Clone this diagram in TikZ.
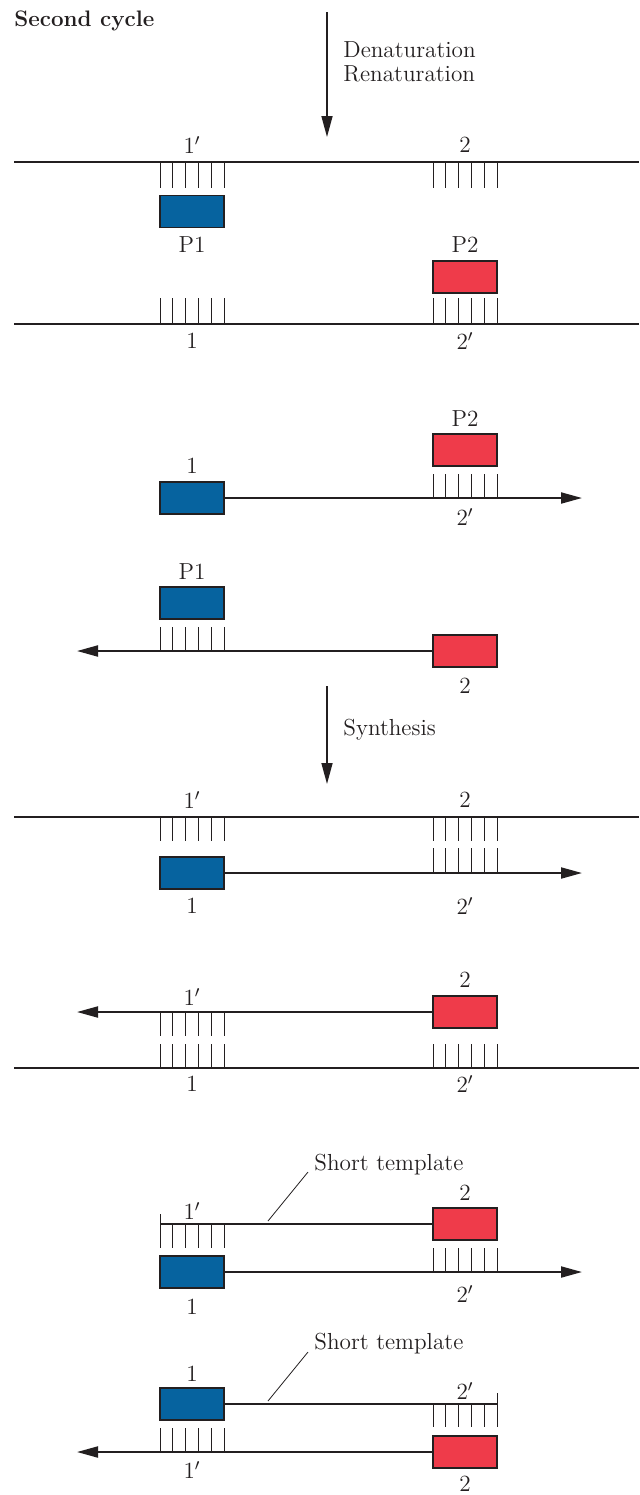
\documentclass[tikz,border=0pt]{standalone}
\usetikzlibrary{arrows.meta}
\definecolor{pblue}{HTML}{06639F}
\definecolor{pred}{HTML}{EF3B4A}
\definecolor{ink}{HTML}{231F20}
\newcommand\tickgroup[3]{\foreach \i in {0,...,5}{\draw[tick] ({#1+\i*12.8},#2) -- ({#1+\i*12.8},#3);}}
\begin{document}
\begin{tikzpicture}[x=0.5pt,y=-0.5pt,
  strand/.style={draw=ink, line width=1pt},
  tipr/.style={-{Triangle[length=10.5pt,width=5.5pt]}},
  tick/.style={draw=ink, line width=0.5pt},
  lead/.style={draw=ink, line width=0.4pt},
  boxbase/.style={draw=ink, line width=0.6pt, minimum width=32pt, minimum height=16pt, inner sep=0pt},
  bluebox/.style={boxbase, fill=pblue},
  redbox/.style={boxbase, fill=pred},
  lbl/.style={font=\fontsize{11.6}{13.5}\selectfont, inner sep=0pt, text=ink},
  wlbl/.style={lbl, anchor=west},
]
\fill[white] (0,0) rectangle (639,1495);
\useasboundingbox (0,0) rectangle (639,1495);

% title and first arrow
\node[wlbl, font=\fontsize{11.2}{13}\selectfont\bfseries] (title) at (14,21) {Second cycle};
\coordinate (a1s) at (327,12);
\coordinate (a1e) at (327,137);
\draw[strand, line width=0.8pt, tipr] (a1s) -- (a1e);
\node[wlbl] (den) at (343,50) {Denaturation};
\node[wlbl] (ren) at (343,74) {Renaturation};

% ---- Row A
\coordinate (A1l) at (14,162); \coordinate (A1r) at (639,162);
\draw[strand] (A1l) -- (A1r);
\tickgroup{160}{162}{188}
\tickgroup{433}{162}{188}
\node[lbl] (A1p) at (192,145) {1$'$};
\node[lbl] (A2) at (465,145) {2};
\node[bluebox] (AP1) at (192,211.5) {};
\node[lbl] (AP1l) at (192,245) {P1};
\node[lbl] (AP2l) at (465,245) {P2};
\node[redbox] (AP2) at (465,277) {};
\tickgroup{160}{298}{324}
\tickgroup{433}{298}{324}
\coordinate (A2l) at (14,324); \coordinate (A2r) at (639,324);
\draw[strand] (A2l) -- (A2r);
\node[lbl] (A1) at (192,341) {1};
\node[lbl] (A2p) at (465,341) {2$'$};

% ---- Row B
\node[lbl] (BP2l) at (465,419) {P2};
\node[redbox] (BP2) at (465,450) {};
\tickgroup{433}{474}{498}
\node[lbl] (B1l) at (192,466) {1};
\node[bluebox] (B1) at (192,498) {};
\coordinate (Bt1) at (582,498);
\draw[strand, tipr] (B1.east) -- (Bt1);
\node[lbl] (B2p) at (465,517) {2$'$};
\node[lbl] (BP1l) at (192,572) {P1};
\node[bluebox] (BP1) at (192,603) {};
\tickgroup{160}{627}{651}
\node[redbox] (B2) at (465,651) {};
\coordinate (Bt2) at (77,651);
\draw[strand, tipr] (B2.west) -- (Bt2);
\node[lbl] (B2l) at (465,686) {2};

% synthesis arrow
\coordinate (a2s) at (327,686);
\coordinate (a2e) at (327,784);
\draw[strand, line width=0.8pt, tipr] (a2s) -- (a2e);
\node[wlbl] (syn) at (343,730) {Synthesis};

% ---- Row C
\node[lbl] (C1p) at (192,800) {1$'$};
\node[lbl] (C2) at (465,800) {2};
\coordinate (C1l) at (14,817); \coordinate (C1r) at (639,817);
\draw[strand] (C1l) -- (C1r);
\tickgroup{160}{817}{841}
\tickgroup{433}{817}{841}
\tickgroup{433}{848}{873}
\node[bluebox] (C1b) at (192,873) {};
\coordinate (Ct) at (582,873);
\draw[strand, tipr] (C1b.east) -- (Ct);
\node[lbl] (C1) at (192,906) {1};
\node[lbl] (C2p) at (465,906) {2$'$};

% ---- Row D
\node[lbl] (D2) at (465,980) {2};
\node[lbl] (D1p) at (192,997) {1$'$};
\node[redbox] (D2b) at (465,1012) {};
\coordinate (Dt) at (77,1012);
\draw[strand, tipr] (D2b.west) -- (Dt);
\tickgroup{160}{1012}{1036}
\tickgroup{160}{1044}{1068}
\tickgroup{433}{1044}{1068}
\coordinate (D2l) at (14,1068); \coordinate (D2r) at (639,1068);
\draw[strand] (D2l) -- (D2r);
\node[lbl] (D1) at (192,1084) {1};
\node[lbl] (D2p) at (465,1084) {2$'$};

% ---- Row E
\node[wlbl] (ST1) at (314,1165) {Short template};
\coordinate (ST1a) at (308,1172); \coordinate (ST1b) at (268,1221);
\draw[lead] (ST1a) -- (ST1b);
\node[lbl] (E2) at (465,1193) {2};
\node[lbl] (E1p) at (192,1211) {1$'$};
\node[redbox] (E2b) at (465,1224) {};
\coordinate (Eend) at (160,1224);
\draw[strand, line width=0.8pt] (Eend) -- (E2b.west);
\coordinate (Ebt) at (160,1214); \coordinate (Ebb) at (160,1248);
\draw[tick] (Ebt) -- (Ebb);
\tickgroup{160}{1224}{1248}
\tickgroup{433}{1248}{1272}
\node[bluebox] (E1b) at (192,1272) {};
\coordinate (Et) at (582,1272);
\draw[strand, tipr] (E1b.east) -- (Et);
\node[lbl] (E2p) at (465,1294) {2$'$};
\node[lbl] (E1) at (192,1307) {1};

% ---- Row F
\node[wlbl] (ST2) at (314,1344) {Short template};
\coordinate (ST2a) at (308,1352); \coordinate (ST2b) at (268,1401);
\draw[lead] (ST2a) -- (ST2b);
\node[lbl] (F1) at (192,1374) {1};
\node[lbl] (F2p) at (465,1391) {2$'$};
\node[bluebox] (F1b) at (192,1404) {};
\coordinate (Fend) at (497,1404);
\draw[strand, line width=0.8pt] (F1b.east) -- (Fend);
\coordinate (Fbt) at (497,1393); \coordinate (Fbb) at (497,1427);
\draw[tick] (Fbt) -- (Fbb);
\tickgroup{433}{1404}{1427}
\tickgroup{160}{1428}{1452}
\node[redbox] (F2b) at (465,1452) {};
\coordinate (Ft) at (77,1452);
\draw[strand, tipr] (F2b.west) -- (Ft);
\node[lbl] (F1p) at (192,1470) {1$'$};
\node[lbl] (F2) at (465,1484) {2};
\end{tikzpicture}
\end{document}
